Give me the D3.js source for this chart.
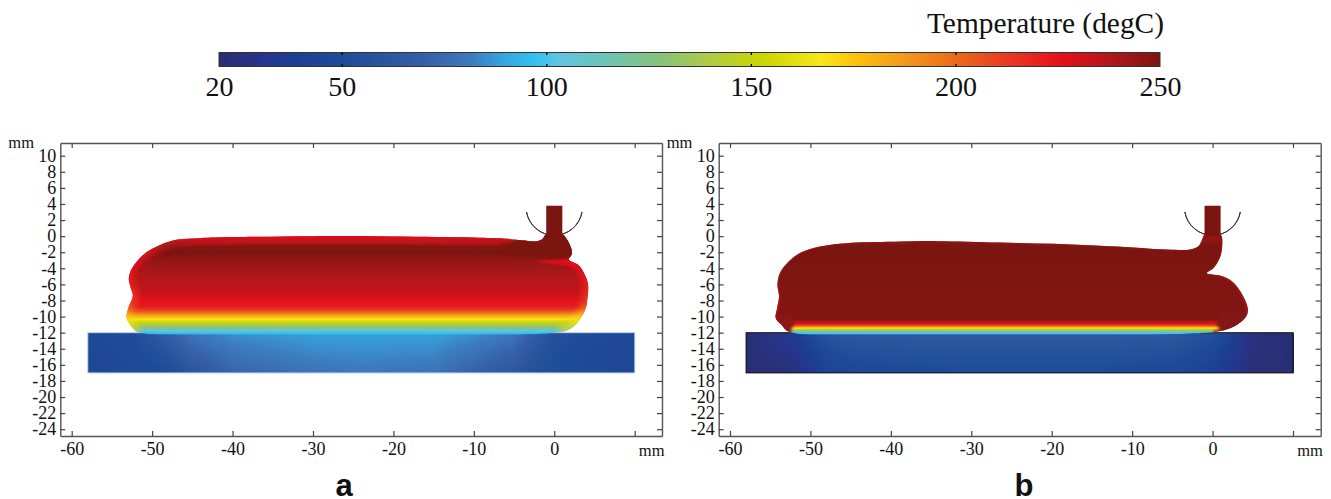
<!DOCTYPE html>
<html>
<head>
<meta charset="utf-8">
<script src="https://cdnjs.cloudflare.com/ajax/libs/d3/7.8.5/d3.min.js"></script>
<style>
  body { margin: 0; background: #fff; }
  text { font-family: "Liberation Serif", serif; fill: #111; }
</style>
</head>
<body>
<svg id="chart" width="1331" height="499"></svg>
<script>
// colour bar
var tempStops = [20, 30, 38, 50, 70, 82, 90, 97, 103, 115, 128, 140, 153, 167, 176, 190, 200, 212, 226, 238, 250];
var colorStops = ["#2a2e6e", "#27348b", "#1d3e8f", "#1e4b97", "#3560a8", "#3d7cc0", "#35a8e0", "#35c0f0", "#60c5e0",
  "#70c4b5", "#88c27a", "#b0cb45", "#ccd500", "#f8e71c", "#fcc010", "#f09020", "#eb6a1a", "#e83c25", "#e3101a", "#b0181a", "#7a1510"];
var barTicks = [20, 50, 100, 150, 200, 250];

// axes
var xTicks = [-60, -50, -40, -30, -20, -10, 0, 10];
var yTicks = [10, 8, 6, 4, 2, 0, -2, -4, -6, -8, -10, -12, -14, -16, -18, -20, -22, -24];

// bead outlines in mm
var beadA = [[0.5, -11.95], [2, -11.5], [3, -10.6], [3.9, -9], [4.1, -7.9], [4.2, -6], [3.8, -4.8], [3, -3.6], [1.8, -2.9],
  [2.2, -2.2], [2.1, -1.5], [1.6, -0.45], [1, 0.25], [-1, 0.25], [-1.5, -0.4], [-2.2, -0.66], [-3.8, -0.54], [-5.9, -0.33],
  [-10, -0.17], [-20, -0.04], [-30, 0], [-39.9, -0.12], [-44, -0.25], [-47, -0.45], [-49, -1.1], [-51.1, -2.3], [-52.5, -4],
  [-52.9, -5.2], [-52.7, -6.3], [-52.4, -7.4], [-52.9, -8.75], [-53.2, -10], [-53, -10.6], [-52.4, -11.45], [-51.7, -11.95]];
var beadB = [[0.1, -11.95], [0.9, -11.8], [2.6, -11.25], [4, -10.2], [4.4, -9.2], [3.6, -7.1], [2.4, -5.6], [0.9, -4.9], [-0.7, -4.6],
  [0.1, -4], [0.9, -2.7], [1.2, -1.1], [1, 0.17], [-1, 0.17], [-1.3, -0.45], [-1.8, -1.3], [-2.8, -1.66], [-5.7, -1.66], [-9.9, -1.4],
  [-14, -1.2], [-19.8, -0.95], [-26.5, -0.8], [-34.3, -0.62], [-39.7, -0.7], [-45.5, -0.87], [-48.8, -1.3], [-51.3, -2.1], [-52.7, -3.15],
  [-53.8, -4.6], [-54.1, -6.05], [-53.9, -7.5], [-54.1, -8.75], [-54.3, -10.2], [-53.6, -11], [-52.6, -11.9]];

// temperature down through the bead: depth mm, degC
var depthA = [0, -0.4, -1.2, -2, -3, -5, -7, -8, -8.8, -9.3, -9.6, -10.2, -10.5, -11, -11.5, -11.9, -12];
var profileA = [226, 232, 248, 250, 245, 238, 233, 226, 222, 208, 195, 172, 160, 140, 120, 100, 97];
var depthB = [-0.5, -1.2, -5, -10.4, -10.9, -11.2, -11.4, -11.7, -11.9, -12];
var profileB = [245, 250, 249, 248, 226, 200, 170, 140, 110, 100];

// temperature along the free edge of the bead
var edgeDepthA = [0, -0.4, -1, -1.8, -4, -6, -8, -9, -10, -11, -11.8, -12];
var edgeTempA = [226, 232, 242, 230, 226, 222, 215, 205, 175, 160, 140, 120];
var edgeDepthB = [0, -5, -10, -11, -12];
var edgeTempB = [246, 244, 238, 232, 226];

// local corrections inside the bead: outline and degC
var patchesA = [
  { temp: 250, pts: [[-3.5, 0.5], [2.5, 0.5], [2.5, -2.9], [1, -2.9], [-2, -2.8], [-5, -2.5], [-7, -1.2], [-5, -0.6]] },
  { temp: 226, pts: [[-3, -3.1], [1.8, -2.9], [3, -3.6], [1, -3.6]] }
];
var patchesB = [
  { temp: 248, pts: [[1, -9.6], [5, -9.6], [5, -12.5], [0.9, -12.5], [0.8, -11.4], [0.4, -10.9]] },
  { temp: 246, pts: [[-52.2, -9.8], [-56, -9.8], [-56, -12.5], [-52.6, -12.5], [-52.3, -11.4], [-52, -10.9]] }
];

// substrate field, degC at each column for top, middle and bottom rows
var subX = [-58, -52, -48, -45, -40, -30, -24, -15, -10, -5, -3, 0, 5, 10];
var subY = [-12, -14.5, -17];
var subA = [
  [48, 52, 68, 80, 86, 89, 89, 89, 86, 80, 70, 55, 50, 47],
  [47, 50, 58, 70, 79, 84, 85, 84, 78, 70, 62, 52, 48, 47],
  [47, 48, 50, 60, 72, 78, 80, 78, 70, 62, 56, 52, 48, 47]
];
var subB = [
  [22, 36, 60, 62, 63, 64, 64, 64, 63, 62, 60, 55, 25, 22],
  [22, 30, 48, 54, 56, 57, 57, 57, 56, 55, 52, 46, 24, 22],
  [22, 24, 42, 45, 48, 50, 50, 50, 48, 46, 44, 40, 23, 22]
];

// nozzle and shield arc
var nozzleX = [-1, 1];
var nozzleY = [0, 3.78];
var arcCentre = [0, 3.6];
var arcRadius = 3.5;

var svg = d3.select("#chart");
var defs = svg.append("defs");

var color = d3.scaleLinear().domain(tempStops).range(colorStops).clamp(true);

function addBlur(id, dev) {
  defs.append("filter").attr("id", id)
    .attr("x", "-30%").attr("y", "-30%").attr("width", "160%").attr("height", "160%")
    .append("feGaussianBlur").attr("stdDeviation", dev);
}
addBlur("blurEdge", 3.4);
addBlur("blurThin", 1);
addBlur("blurPatch", 1.6);

//vertical gradient built from a depth/temperature list
function depthGradient(id, y, depth, temps) {
  var t = d3.scaleLinear().domain(depth).range(temps).clamp(true);
  var top = d3.max(depth), bottom = d3.min(depth);
  var grad = defs.append("linearGradient").attr("id", id)
    .attr("gradientUnits", "userSpaceOnUse")
    .attr("x1", 0).attr("x2", 0).attr("y1", y(top)).attr("y2", y(bottom));
  d3.range(0, 1.0001, 0.01).forEach(function (f) {
    grad.append("stop").attr("offset", f).attr("stop-color", color(t(top + (bottom - top) * f)));
  });
}

function field(table, px, py) {
  var fx = d3.scaleLinear().domain(subX).range(d3.range(subX.length)).clamp(true)(px);
  var fy = d3.scaleLinear().domain(subY).range(d3.range(subY.length)).clamp(true)(py);
  var i = Math.min(Math.floor(fx), subX.length - 2), j = Math.min(Math.floor(fy), subY.length - 2);
  var a = d3.interpolateNumber(table[j][i], table[j][i + 1])(fx - i);
  var b = d3.interpolateNumber(table[j + 1][i], table[j + 1][i + 1])(fx - i);
  return d3.interpolateNumber(a, b)(fy - j);
}

function panel(p) {
  var x = d3.scaleLinear().domain([-60, 10]).range([p.x60, p.x10]);
  var y = d3.scaleLinear().domain([10, -24]).range([155.7, 429.2]);
  var g = svg.append("g");

  // substrate cells
  var cells = [];
  d3.range(-58, 10, 0.25).forEach(function (cx) {
    d3.range(-12, -17, -0.25).forEach(function (cy) {
      cells.push({ x: cx, y: cy, t: field(p.sub, cx + 0.125, cy - 0.125) });
    });
  });
  g.append("g").attr("shape-rendering", "crispEdges").selectAll("rect").data(cells).enter().append("rect")
    .attr("x", function (d) { return x(d.x); })
    .attr("y", function (d) { return y(d.y); })
    .attr("width", x(0.25) - x(0) + 0.5)
    .attr("height", y(-0.25) - y(0) + 0.5)
    .attr("fill", function (d) { return color(d.t); });
  g.append("rect")
    .attr("x", x(-58)).attr("y", y(-12))
    .attr("width", x(10) - x(-58)).attr("height", y(-17) - y(-12))
    .attr("fill", "none").attr("stroke", p.subStroke).attr("stroke-width", 1);

  // bead
  var line = d3.line().x(function (d) { return x(d[0]); }).y(function (d) { return y(d[1]); })
    .curve(d3.curveCatmullRomClosed.alpha(0.5));
  var open = d3.line().x(function (d) { return x(d[0]); }).y(function (d) { return y(d[1]); })
    .curve(d3.curveCatmullRom.alpha(0.5));
  var poly = d3.line().x(function (d) { return x(d[0]); }).y(function (d) { return y(d[1]); })
    .curve(d3.curveLinearClosed);
  defs.append("clipPath").attr("id", "clip" + p.name).append("path").attr("d", line(p.bead));
  depthGradient("grad" + p.name, y, p.depth, p.profile);
  depthGradient("edge" + p.name, y, p.edgeDepth, p.edgeTemp);

  var bead = g.append("g").attr("clip-path", "url(#clip" + p.name + ")");
  bead.append("rect")
    .attr("x", x(-56)).attr("y", y(1))
    .attr("width", x(6) - x(-56)).attr("height", y(-12.2) - y(1))
    .attr("fill", "url(#grad" + p.name + ")");
  // the stroke leaves out the bottom of the bead, that side sits on the substrate
  bead.append("path").attr("d", open(p.bead))
    .attr("fill", "none")
    .attr("stroke", "url(#edge" + p.name + ")")
    .attr("stroke-width", p.edgeWidth)
    .attr("filter", "url(#" + p.edgeBlur + ")");
  bead.selectAll("path.patch").data(p.patches).enter().append("path")
    .attr("class", "patch")
    .attr("d", function (d) { return poly(d.pts); })
    .attr("fill", function (d) { return color(d.temp); })
    .attr("filter", "url(#blurPatch)");

  // shield arc and nozzle
  var r = y(0) - y(arcRadius);
  g.append("path")
    .attr("d", d3.arc().innerRadius(r).outerRadius(r).startAngle(Math.PI - 1.4).endAngle(Math.PI + 1.4)())
    .attr("transform", "translate(" + x(arcCentre[0]) + "," + y(arcCentre[1]) + ")")
    .attr("fill", "none").attr("stroke", "#333").attr("stroke-width", 1);
  g.append("rect")
    .attr("x", x(nozzleX[0])).attr("y", y(nozzleY[1]))
    .attr("width", x(nozzleX[1]) - x(nozzleX[0])).attr("height", y(nozzleY[0]) - y(nozzleY[1]))
    .attr("fill", color(250));

  // frame and ticks
  var xFull = x.copy().domain([x.invert(p.left), x.invert(p.right)]).range([p.left, p.right]);
  var yFull = y.copy().domain([y.invert(143), y.invert(436)]).range([143, 436]);
  function style(a) {
    a.selectAll(".domain").attr("stroke", "#555").attr("stroke-width", 1.4);
    a.selectAll(".tick line").attr("stroke", "#444").attr("stroke-width", 1.2);
  }
  var bottom = g.append("g").attr("transform", "translate(0,436)")
    .call(d3.axisBottom(xFull).tickValues(xTicks).tickSizeInner(-5).tickSizeOuter(0).tickPadding(6)
      .tickFormat(function (d) { return d == 10 ? "" : String(d); }));
  bottom.selectAll("text").attr("font-size", 18);
  style(bottom);
  style(g.append("g").attr("transform", "translate(0,143)")
    .call(d3.axisTop(xFull).tickValues(xTicks).tickSizeInner(-5).tickSizeOuter(0).tickFormat("")));
  var leftAxis = g.append("g").attr("transform", "translate(" + p.left + ",0)")
    .call(d3.axisLeft(yFull).tickValues(yTicks).tickSizeInner(-5).tickSizeOuter(0).tickPadding(4)
      .tickFormat(function (d) { return String(d); }));
  leftAxis.selectAll("text").attr("font-size", 18);
  style(leftAxis);
  style(g.append("g").attr("transform", "translate(" + p.right + ",0)")
    .call(d3.axisRight(yFull).tickValues(yTicks).tickSizeInner(-5).tickSizeOuter(0).tickFormat("")));

  g.append("text").attr("x", p.left - 52).attr("y", 148).attr("font-size", 16.5).text("mm");
  g.append("text").attr("x", x(10) + 17).attr("y", 456).attr("text-anchor", "middle").attr("font-size", 16.5).text("mm");
  g.append("text").attr("x", p.labelX).attr("y", 496).attr("text-anchor", "middle")
    .attr("font-size", 31).attr("font-weight", "bold")
    .style("font-family", "'Liberation Sans', sans-serif")
    .text(p.name);
}

panel({ name: "a", x60: 71.7, x10: 634.7, left: 60.3, right: 662, labelX: 344, bead: beadA, depth: depthA, profile: profileA,
  edgeDepth: edgeDepthA, edgeTemp: edgeTempA, edgeWidth: 11, edgeBlur: "blurEdge", patches: patchesA, sub: subA, subStroke: "#a9c9ec" });
panel({ name: "b", x60: 730, x10: 1293, left: 718.7, right: 1320.7, labelX: 1024, bead: beadB, depth: depthB, profile: profileB,
  edgeDepth: edgeDepthB, edgeTemp: edgeTempB, edgeWidth: 3, edgeBlur: "blurThin", patches: patchesB, sub: subB, subStroke: "#111" });

// colour bar
var barX = d3.scaleLinear().domain([20, 250]).range([219, 1160]);
var barGrad = defs.append("linearGradient").attr("id", "barGrad");
tempStops.forEach(function (t, i) {
  barGrad.append("stop").attr("offset", (t - 20) / 230).attr("stop-color", colorStops[i]);
});
svg.append("rect")
  .attr("x", barX(20)).attr("y", 52.5).attr("width", barX(250) - barX(20)).attr("height", 14)
  .attr("fill", "url(#barGrad)").attr("stroke", "#333").attr("stroke-width", 1);

var barAxis = svg.append("g").attr("transform", "translate(0,66.5)")
  .call(d3.axisBottom(barX).tickValues(barTicks).tickSizeInner(-2.5).tickSizeOuter(0).tickPadding(10));
barAxis.select(".domain").remove();
barAxis.selectAll("text").attr("font-size", 28);
barAxis.selectAll(".tick line").attr("stroke", "#000").attr("stroke-width", 1.3)
  .attr("display", function (d) { return d == 20 || d == 250 ? "none" : null; });
svg.append("g").attr("transform", "translate(0,52.5)")
  .call(d3.axisTop(barX).tickValues([50, 100, 150, 200]).tickSizeInner(-2.5).tickSizeOuter(0).tickFormat(""))
  .call(function (a) {
    a.select(".domain").remove();
    a.selectAll(".tick line").attr("stroke", "#000").attr("stroke-width", 1.3);
  });

svg.append("text").attr("x", 1164).attr("y", 33).attr("text-anchor", "end").attr("font-size", 29.4).text("Temperature (degC)");
</script>
</body>
</html>
